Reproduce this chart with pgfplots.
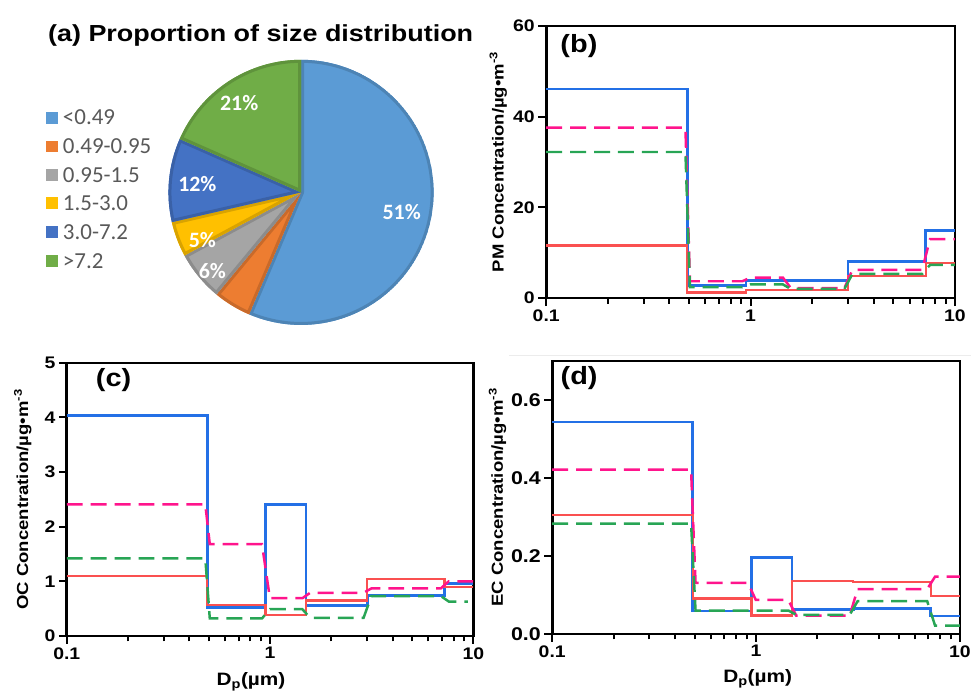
\documentclass[border=0pt]{standalone}
\usepackage{fontspec}
\setmainfont{Liberation Sans}[FakeStretch=1.16]
\newfontfamily\calfont{Carlito}
\usepackage{pgfplots}
\pgfplotsset{compat=1.18}

\definecolor{lblue}{RGB}{35,112,230}
\definecolor{lred}{RGB}{250,80,80}
\definecolor{lpink}{RGB}{255,20,140}
\definecolor{lgreen}{RGB}{40,165,85}
\definecolor{pblue}{HTML}{5B9BD5}
\definecolor{porange}{HTML}{ED7D31}
\definecolor{pgrey}{HTML}{A5A5A5}
\definecolor{pyellow}{HTML}{FFC000}
\definecolor{pdblue}{HTML}{4472C4}
\definecolor{pgreen}{HTML}{70AD47}
\definecolor{legtext}{HTML}{595959}

\newcommand\tickfont{\bfseries\fontsize{16.8}{18}\selectfont}
\newcommand\bigtickfont{\bfseries\fontsize{18.5}{20}\selectfont}
\newcommand\labfont{\bfseries\fontsize{16}{18}\selectfont}
\newcommand\xlabfont{\bfseries\fontsize{18}{20}\selectfont}
\newcommand\panfont{\bfseries\fontsize{25}{28}\selectfont}

\pgfplotsset{
  every axis/.append style={
    scale only axis, anchor=south west,
    xmin=0.1, xmax=10,
    xtick={0.1,1,10}, xticklabels={0.1,1,10},
    tick pos=left, tick align=outside,
    axis line style={line width=2.6pt},
    every tick/.style={black, line width=2pt},
    major tick length=8pt, minor tick length=5.5pt,
    yminorticks=false,
    ticklabel style={font=\tickfont},
    ylabel style={font=\labfont, anchor=center},
    xlabel style={font=\xlabfont, anchor=base},
  },
  every axis plot/.append style={no marks, line width=2.8pt},
  sblue/.style={color=lblue, const plot},
  sred/.style={color=lred, const plot, line width=2.3pt},
  dpink/.style={color=lpink, dash pattern=on 16pt off 8pt, line width=2.5pt},
  dgreen/.style={color=lgreen, dash pattern=on 16pt off 8pt, line width=2.5pt},
}

\begin{document}
\begin{tikzpicture}
\begin{scope}[x=1pt,y=1pt]
\path[use as bounding box] (0,0) rectangle (974,693);

% ---------- (a) pie ----------
\node[anchor=base, font=\bfseries\fontsize{23.3}{26}\selectfont] at (261.5,651) {(a) Proportion of size distribution};

\gdef\curang{90}
\foreach \v/\c in {56.4/pblue, 4.6/porange, 6.1/pgrey, 4.3/pyellow, 10.2/pdblue, 18.4/pgreen}{
  \pgfmathsetmacro\s{\curang}
  \pgfmathsetmacro\e{\curang-3.6*\v}
  \begin{scope}
    \clip (302,500) -- ++(\s:133) arc[start angle=\s, end angle=\e, radius=133] -- cycle;
    \fill[\c] (302,500) -- ++(\s:133) arc[start angle=\s, end angle=\e, radius=133] -- cycle;
    \draw[\c!85!black, line width=6pt, line join=round] (302,500) -- ++(\s:133) arc[start angle=\s, end angle=\e, radius=133] -- cycle;
  \end{scope}
  \xdef\curang{\e}
}
\begin{scope}[font=\calfont\bfseries\fontsize{22}{24}\selectfont, text=white]
\node at (403,480) {51\%};
\node at (240,590) {21\%};
\node at (198,508) {12\%};
\node at (203,452) {5\%};
\node at (213,421) {6\%};
\end{scope}

\foreach \t/\c/\y in {{<0.49}/pblue/575, {0.49-0.95}/porange/546, {0.95-1.5}/pgrey/517, {1.5-3.0}/pyellow/489, {3.0-7.2}/pdblue/460, {>7.2}/pgreen/431}{
  \fill[\c] (46,\y-6) rectangle (58,\y+6);
  \node[anchor=west, inner sep=0pt, text=legtext, font=\calfont\fontsize{23}{25}\selectfont] at (63,\y) {\t};
}

\draw[gray!15, line width=1pt] (511,336) -- (974,336);
\end{scope}

% ---------- (b) PM ----------
\begin{axis}[xmode=log, at={(548pt,394pt)}, width=410pt, height=273pt,
  /pgf/number format/assume math mode=true,
  ymin=0, ymax=60, ytick={0,20,40,60},
  ylabel={PM Concentration/µg•m\textsuperscript{-3}},
  ylabel style={at={(axis description cs:-0.117,0.5)}}]
\addplot[sblue] coordinates {(0.1,46.1) (0.49,2.8) (0.95,3.8) (1.5,3.8) (3.0,8.0) (7.2,14.9) (10,14.9)};
\addplot[sred] coordinates {(0.1,11.6) (0.49,1.25) (0.95,1.8) (1.5,1.8) (3.0,4.9) (7.2,7.7) (10,7.7)};
\addplot[dpink] coordinates {(0.1,37.6) (0.48,37.6) (0.505,3.7) (0.912,3.7) (0.9975,4.5) (1.44,4.5) (1.575,2.2) (2.88,2.2) (3.15,6.2) (6.912,6.2) (7.56,13.0) (10,13.0)};
\addplot[dgreen] coordinates {(0.1,32.2) (0.48,32.2) (0.505,2.4) (0.912,2.4) (0.9975,3.0) (1.44,3.0) (1.575,2.0) (2.88,2.0) (3.15,5.3) (6.912,5.3) (7.56,7.3) (10,7.3)};
\node[font=\panfont] at (axis description cs:0.080,0.927) {(b)};
\end{axis}

% ---------- (c) OC ----------
\begin{axis}[xmode=log, at={(67pt,55pt)}, width=408pt, height=274pt,
  /pgf/number format/assume math mode=true,
  ymin=0, ymax=5, ytick={0,1,2,3,4,5},
  ylabel={OC Concentration/µg•m\textsuperscript{-3}},
  ylabel style={at={(axis description cs:-0.108,0.5)}},
  xlabel={D\textsubscript{p}(µm)},
  xlabel style={at={(axis description cs:0.453,-0.182)}}]
\addplot[sblue] coordinates {(0.1,4.04) (0.49,0.52) (0.95,2.41) (1.5,0.55) (3.0,0.74) (7.2,0.96) (10,0.96)};
\addplot[sred] coordinates {(0.1,1.10) (0.49,0.56) (0.95,0.38) (1.5,0.65) (3.0,1.04) (7.2,0.90) (10,0.90)};
\addplot[dpink] coordinates {(0.1,2.41) (0.48,2.41) (0.505,1.68) (0.912,1.68) (0.9975,0.69) (1.44,0.69) (1.575,0.79) (2.88,0.79) (3.15,0.87) (6.912,0.87) (7.56,1.00) (10,1.00)};
\addplot[dgreen] coordinates {(0.1,1.42) (0.48,1.42) (0.505,0.32) (0.912,0.32) (0.9975,0.49) (1.44,0.49) (1.575,0.33) (2.88,0.33) (3.15,0.73) (6.912,0.73) (7.56,0.63) (9.4,0.63)};
\node[font=\panfont] at (axis description cs:0.115,0.938) {(c)};
\end{axis}

% ---------- (d) EC ----------
\begin{axis}[xmode=log, at={(554pt,57pt)}, width=409pt, height=274pt,
  /pgf/number format/assume math mode=true,
  ymin=0, ymax=0.7, ytick={0,0.2,0.4,0.6},
  yticklabel style={font=\bigtickfont, /pgf/number format/.cd, fixed, fixed zerofill, precision=1},
  ylabel={EC Concentration/µg•m\textsuperscript{-3}},
  ylabel style={at={(axis description cs:-0.134,0.5)}},
  xlabel={D\textsubscript{p}(µm)},
  xlabel style={at={(axis description cs:0.504,-0.179)}}]
\addplot[sblue] coordinates {(0.1,0.543) (0.49,0.059) (0.95,0.196) (1.5,0.063) (3.0,0.065) (7.2,0.046) (10,0.046)};
\addplot[sred] coordinates {(0.1,0.304) (0.49,0.091) (0.95,0.047) (1.5,0.135) (3.0,0.133) (7.2,0.097) (10,0.097)};
\addplot[dpink] coordinates {(0.1,0.421) (0.48,0.421) (0.505,0.131) (0.912,0.131) (0.9975,0.087) (1.44,0.087) (1.575,0.047) (2.88,0.047) (3.15,0.115) (6.912,0.115) (7.56,0.147) (10,0.147)};
\addplot[dgreen] coordinates {(0.1,0.283) (0.48,0.283) (0.505,0.060) (0.912,0.060) (0.9975,0.060) (1.44,0.060) (1.575,0.049) (2.88,0.049) (3.15,0.084) (6.912,0.084) (7.56,0.021) (10,0.021)};
\node[font=\panfont] at (axis description cs:0.066,0.938) {(d)};
\end{axis}
\end{tikzpicture}
\end{document}
